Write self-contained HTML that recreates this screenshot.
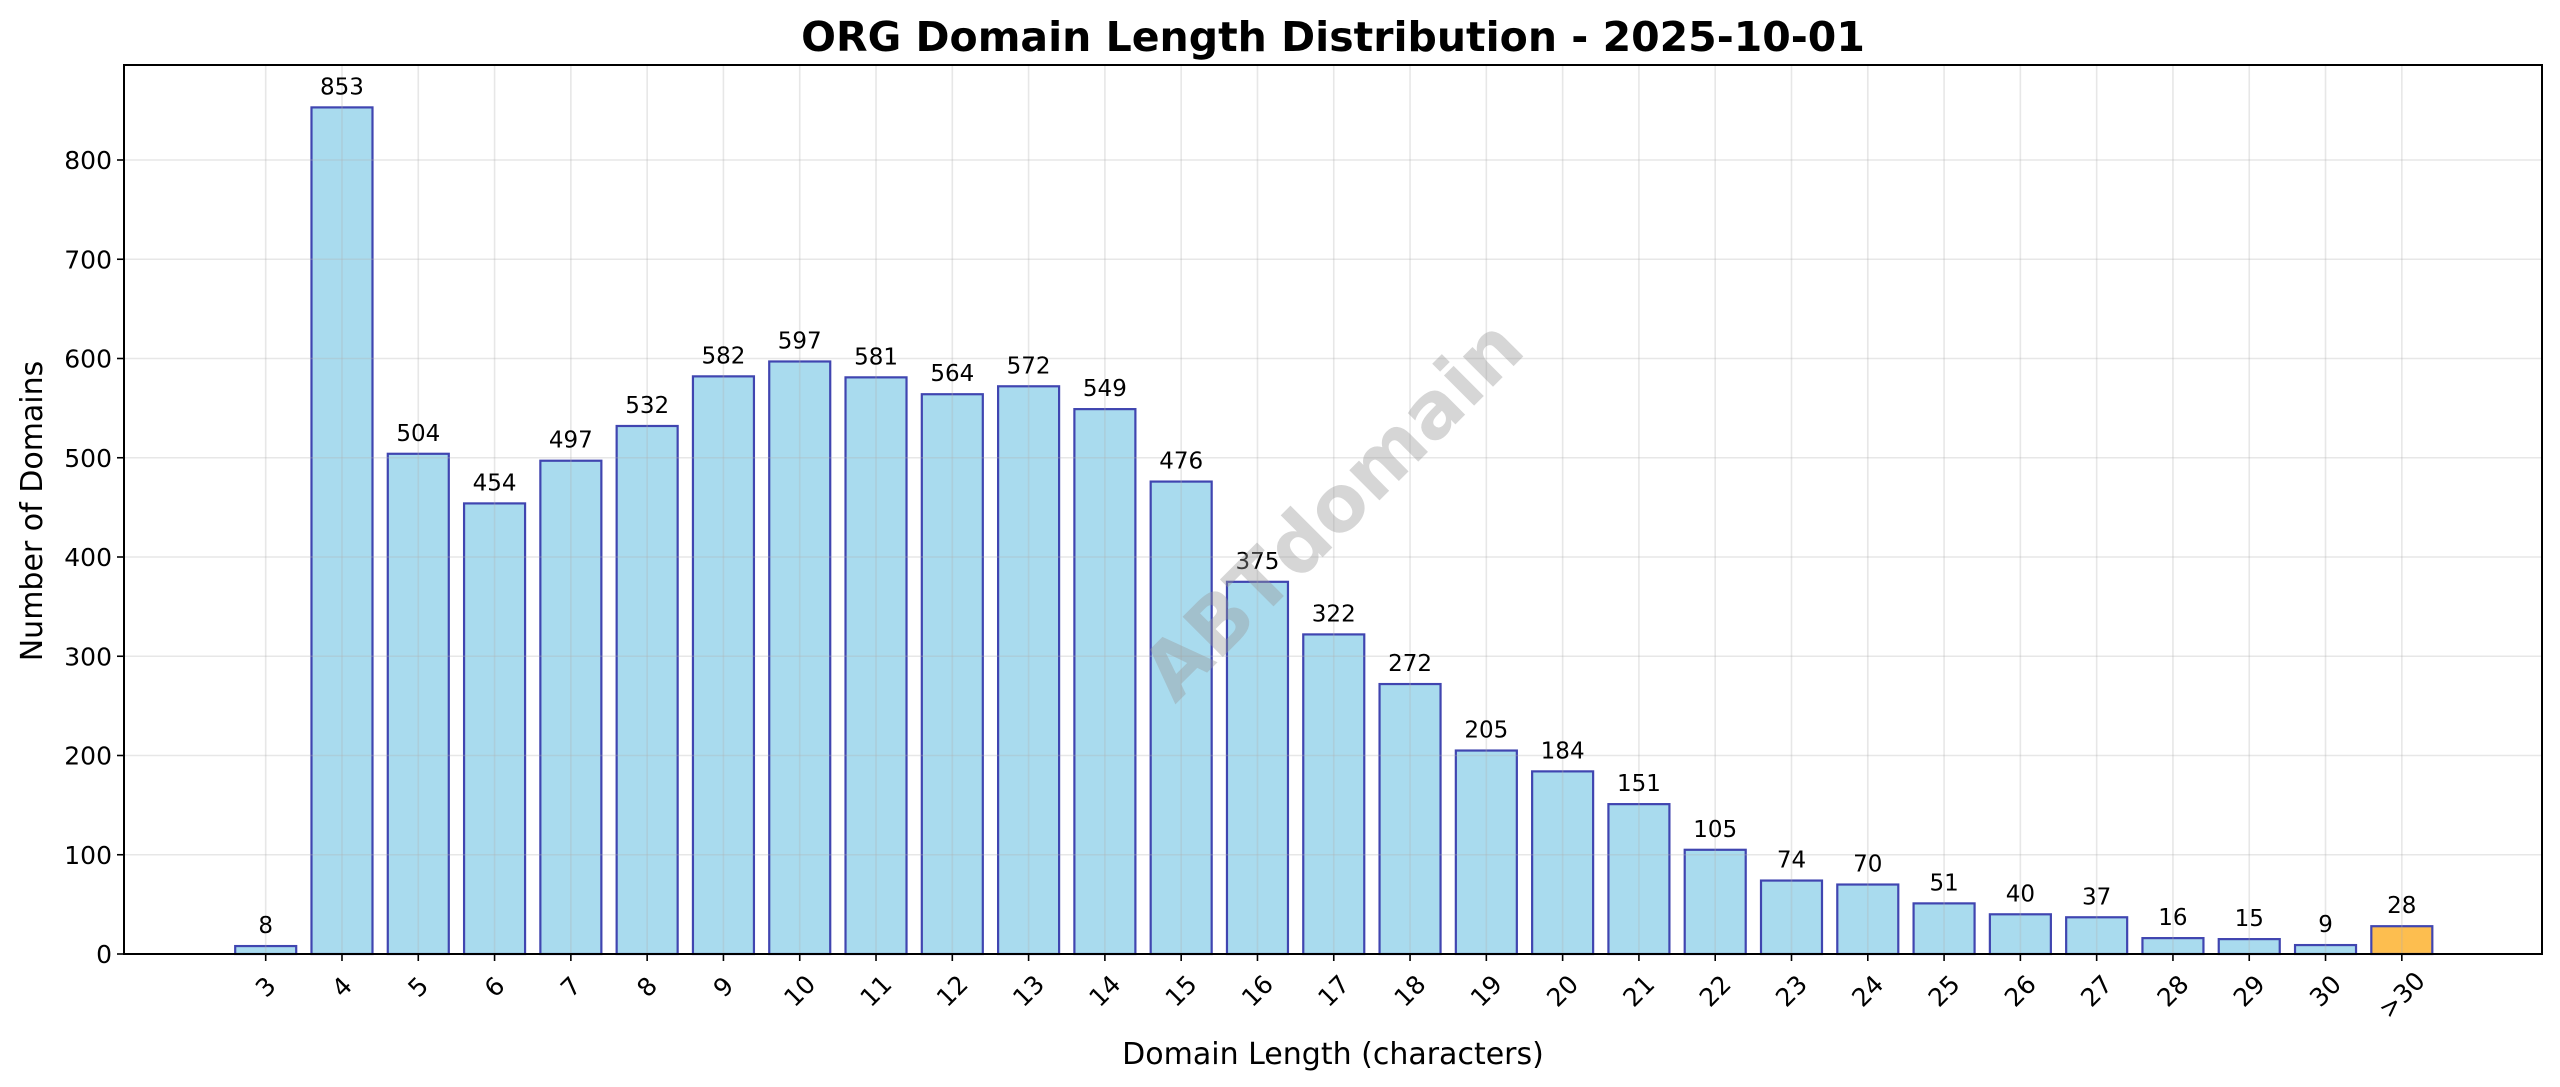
<!DOCTYPE html>
<html><head><meta charset="utf-8"><style>html,body{margin:0;padding:0;background:#fff;}svg{display:block;}</style></head>
<body>
<svg id="c" width="2560" height="1087" xmlns="http://www.w3.org/2000/svg" font-family="'DejaVu Sans','Liberation Sans',sans-serif"></svg>
<script>
const s=document.getElementById('c');
const L=124,R=2542,T=65,B=954,k=0.9925;
const cats=['3','4','5','6','7','8','9','10','11','12','13','14','15','16','17','18','19','20','21','22','23','24','25','26','27','28','29','30','>30'];
const vals=[8,853,504,454,497,532,582,597,581,564,572,549,476,375,322,272,205,184,151,105,74,70,51,40,37,16,15,9,28];
const x0=265.7,dx=76.29,bw=61;
let h='';
h+=`<text x="1333" y="51" text-anchor="middle" font-size="41" font-weight="bold">ORG Domain Length Distribution - 2025-10-01</text>`;
cats.forEach((c,i)=>{const cx=x0+i*dx,v=vals[i],y=B-v*k;
h+=`<rect x="${cx-bw/2}" y="${y}" width="${bw}" height="${v*k}" fill="${i==28?'#fdbe4f':'#a9dbee'}" stroke="#4045b0" stroke-width="2.2"/>`;});
cats.forEach((c,i)=>{const cx=x0+i*dx;h+=`<line x1="${cx}" y1="${T}" x2="${cx}" y2="${B}" stroke="#b0b0b0" stroke-opacity="0.3" stroke-width="1.6"/>`;});
for(let v=0;v<=800;v+=100){const y=B-v*k;h+=`<line x1="${L}" y1="${y}" x2="${R}" y2="${y}" stroke="#b0b0b0" stroke-opacity="0.3" stroke-width="1.6"/>`;
h+=`<line x1="${L-7}" y1="${y}" x2="${L}" y2="${y}" stroke="#000" stroke-width="1.6"/>`;
h+=`<text x="${L-12}" y="${y+9}" text-anchor="end" font-size="25">${v}</text>`;}
cats.forEach((c,i)=>{const cx=x0+i*dx,y=B-vals[i]*k;
h+=`<text x="${cx}" y="${y-13}" text-anchor="middle" font-size="23">${vals[i]}</text>`;
h+=`<line x1="${cx}" y1="${B}" x2="${cx}" y2="${B+7}" stroke="#000" stroke-width="1.6"/>`;
const ly=c.length>=3?995:c.length==2?991:987;
h+=`<text x="${cx}" y="${ly}" text-anchor="middle" dominant-baseline="central" font-size="25" transform="rotate(-45 ${cx} ${ly})">${c.replace('>','&gt;')}</text>`;});
h+=`<text x="1333" y="510" text-anchor="middle" dominant-baseline="central" font-size="78" font-weight="bold" fill="#999" fill-opacity="0.4" transform="rotate(-45 1333 510)">ABTdomain</text>`;
h+=`<rect x="${L}" y="${T}" width="${R-L}" height="${B-T}" fill="none" stroke="#000" stroke-width="2"/>`;
h+=`<text x="1333" y="1064" text-anchor="middle" font-size="30">Domain Length (characters)</text>`;
h+=`<text x="42" y="511" text-anchor="middle" font-size="30" transform="rotate(-90 42 511)">Number of Domains</text>`;
s.innerHTML=h;
</script>
</body></html>
